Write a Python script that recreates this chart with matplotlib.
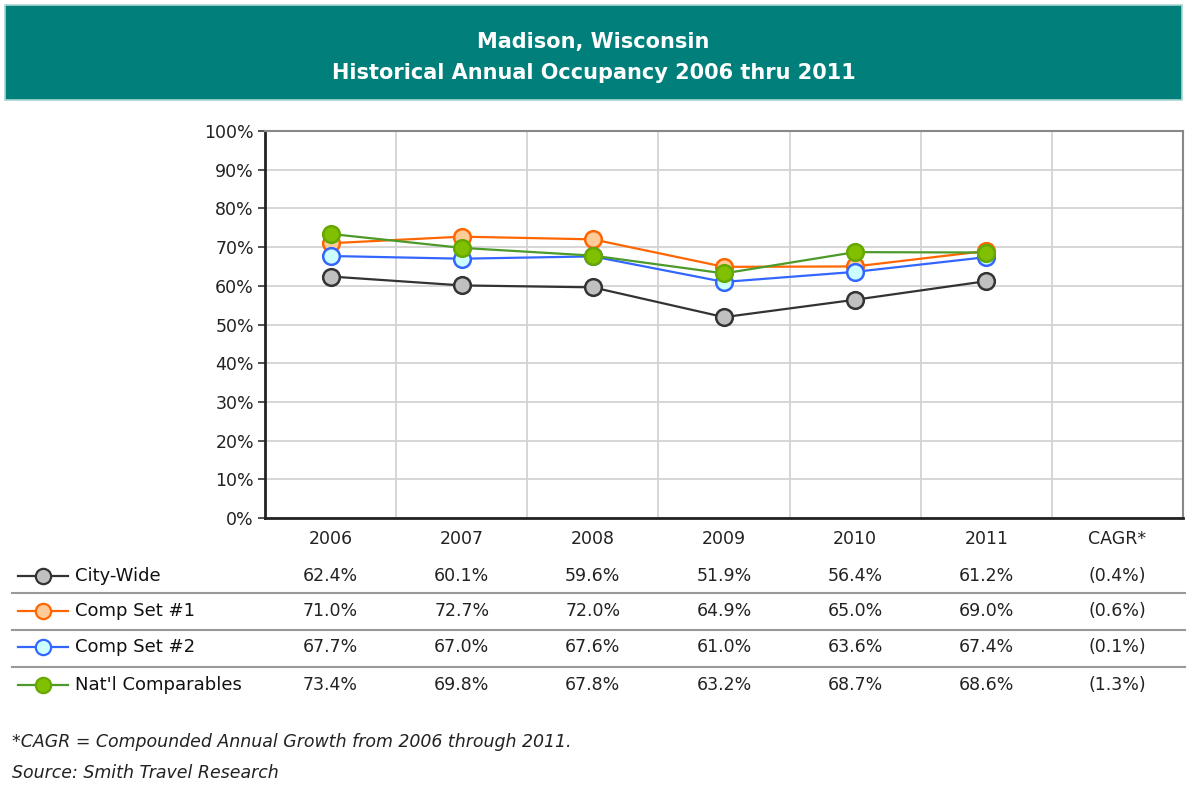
import matplotlib.pyplot as plt
import matplotlib.transforms as mtransforms
from matplotlib.lines import Line2D
from matplotlib.patches import Rectangle
import numpy as np

plt.rcParams['font.family'] = ['DejaVu Sans']

# data
years = ['2006', '2007', '2008', '2009', '2010', '2011']
columns = years + ['CAGR*']
series_names = ['City-Wide', 'Comp Set #1', 'Comp Set #2', "Nat'l Comparables"]
city_wide = [62.4, 60.1, 59.6, 51.9, 56.4, 61.2]
comp_set_1 = [71.0, 72.7, 72.0, 64.9, 65.0, 69.0]
comp_set_2 = [67.7, 67.0, 67.6, 61.0, 63.6, 67.4]
natl_comps = [73.4, 69.8, 67.8, 63.2, 68.7, 68.6]
cagr_labels = ['(0.4%)', '(0.6%)', '(0.1%)', '(1.3%)']

# line color, marker face, marker edge
styles = [
    ('#333333', '#C0C0C0', '#333333'),
    ('#FF6600', '#FFCC99', '#FF6600'),
    ('#3366FF', '#CCFFFF', '#3366FF'),
    ('#4C9A2A', '#80C000', '#66A800'),
]
all_series = [city_wide, comp_set_1, comp_set_2, natl_comps]

W, H = 1187, 795
fig = plt.figure(figsize=(W / 100, H / 100), dpi=100)
fig.patch.set_facecolor('white')


def fy(py):
    """pixel row from top -> figure fraction"""
    return 1 - py / H


def fx(px):
    return px / W


# header band
fig.patches.append(Rectangle((fx(5), fy(100)), fx(1177), 95 / H,
                             transform=fig.transFigure, facecolor='#007F7B',
                             edgecolor='#A9D6D3', linewidth=1.2, zorder=0))
fig.text(0.5, fy(42), 'Madison, Wisconsin', ha='center', va='center',
         color='white', fontsize=15, fontweight='bold')
fig.text(0.5, fy(73), 'Historical Annual Occupancy 2006 thru 2011', ha='center',
         va='center', color='white', fontsize=15, fontweight='bold')

# chart area
ax = fig.add_axes([fx(265), fy(518), fx(918), 387 / H])
x = np.arange(len(years))
for vals, (lc, mf, me) in zip(all_series, styles):
    ax.plot(x, vals, color=lc, linewidth=1.6, marker='o', markersize=12,
            markerfacecolor=mf, markeredgecolor=me, markeredgewidth=1.8, zorder=3)

ax.set_xlim(-0.5, len(columns) - 0.5)
ax.set_ylim(0, 100)
ax.set_yticks(np.arange(0, 101, 10))
ax.set_yticklabels([f'{v}%' for v in range(0, 101, 10)])
ax.set_xticks(np.arange(len(columns)))
ax.set_xticklabels(columns)
ax.set_xticks(np.arange(len(columns) - 1) + 0.5, minor=True)
ax.tick_params(axis='y', length=5, width=1.2, color='#333333', labelsize=12.5,
               labelcolor='#222222', pad=3)
ax.tick_params(axis='x', which='both', length=0, labelsize=12.5,
               labelcolor='#222222', pad=9)
ax.grid(axis='y', color='#D0D0D0', linewidth=1.2)
ax.grid(axis='x', which='minor', color='#D0D0D0', linewidth=1.2)
ax.set_axisbelow(True)
ax.spines['left'].set_color('#222222')
ax.spines['left'].set_linewidth(2)
ax.spines['bottom'].set_color('#222222')
ax.spines['bottom'].set_linewidth(2)
ax.spines['top'].set_color('#888888')
ax.spines['top'].set_linewidth(1.5)
ax.spines['right'].set_color('#888888')
ax.spines['right'].set_linewidth(1.5)

# data table under the chart
row_y = [576, 611, 647, 685]
sep_y = [593, 630, 667]
trans = mtransforms.blended_transform_factory(ax.transData, fig.transFigure)
for i, (name, vals, (lc, mf, me)) in enumerate(zip(series_names, all_series, styles)):
    yy = fy(row_y[i])
    fig.add_artist(Line2D([fx(18), fx(68)], [yy, yy], color=lc, linewidth=1.6,
                          transform=fig.transFigure))
    fig.add_artist(Line2D([fx(43)], [yy], marker='o', markersize=11,
                          markerfacecolor=mf, markeredgecolor=me,
                          markeredgewidth=1.6, transform=fig.transFigure))
    fig.text(fx(75), yy, name, ha='left', va='center', fontsize=13, color='#111111')
    for j, v in enumerate(vals):
        fig.text(j, yy, f'{v:.1f}%', ha='center', va='center', fontsize=12.5,
                 color='#222222', transform=trans)
    fig.text(len(years), yy, cagr_labels[i], ha='center', va='center',
             fontsize=12.5, color='#222222', transform=trans)

for sy in sep_y:
    fig.add_artist(Line2D([fx(12), fx(1185)], [fy(sy), fy(sy)], color='#999999',
                          linewidth=1.5, transform=fig.transFigure))

# footnotes
fig.text(fx(12), fy(742), '*CAGR = Compounded Annual Growth from 2006 through 2011.',
         ha='left', va='center', fontsize=12.5, style='italic', color='#222222')
fig.text(fx(12), fy(773), 'Source: Smith Travel Research', ha='left', va='center',
         fontsize=12.5, style='italic', color='#222222')

fig.savefig('out.png', dpi=100, facecolor=fig.get_facecolor())
